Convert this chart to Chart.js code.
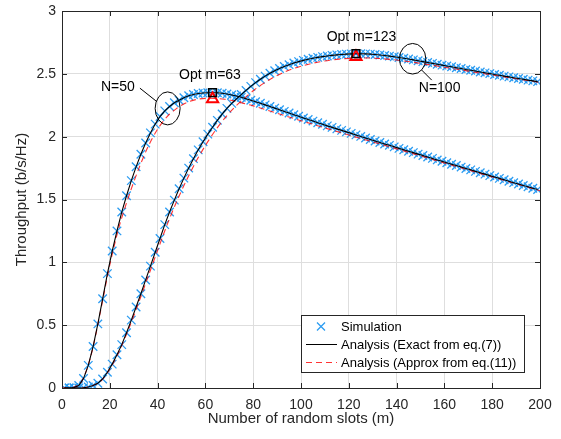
<!DOCTYPE html>
<html>
<head>
<meta charset="utf-8">
<script src="https://cdn.jsdelivr.net/npm/chart.js@4.4.1/dist/chart.umd.min.js"></script>
<style>
  html, body { margin: 0; padding: 0; background: #fff; }
  #wrap { width: 561px; height: 439px; }
</style>
</head>
<body>
<div id="wrap"><canvas id="chart" width="561" height="439"></canvas></div>
<script>
// axes
const xTickValues = [0, 20, 40, 60, 80, 100, 120, 140, 160, 180, 200];
const yTickValues = [0, 0.5, 1, 1.5, 2, 2.5, 3];
const yTickLabels = ['0', '0.5', '1', '1.5', '2', '2.5', '3'];

// simulation / exact analysis, read at m = 1, 3, 5, ..., 199
const simSlots = Array.from({ length: 100 }, (_, i) => 2 * i + 1);
const thrN50 = [
  0, 0, 0.003, 0.02, 0.075, 0.18, 0.33, 0.51, 0.71, 0.91,
  1.09, 1.25, 1.40, 1.53, 1.65, 1.76, 1.86, 1.95, 2.03, 2.10,
  2.16, 2.205, 2.24, 2.27, 2.29, 2.31, 2.325, 2.335, 2.343, 2.348,
  2.35, 2.35, 2.349, 2.345, 2.34, 2.332, 2.323, 2.313, 2.302, 2.29,
  2.278, 2.266, 2.253, 2.24, 2.227, 2.214, 2.201, 2.188, 2.175, 2.162,
  2.149, 2.136, 2.124, 2.111, 2.099, 2.086, 2.074, 2.062, 2.05, 2.038,
  2.026, 2.014, 2.002, 1.99, 1.978, 1.966, 1.954, 1.942, 1.931, 1.919,
  1.907, 1.896, 1.884, 1.873, 1.861, 1.85, 1.838, 1.827, 1.815, 1.804,
  1.792, 1.781, 1.77, 1.758, 1.747, 1.736, 1.724, 1.713, 1.702, 1.69,
  1.679, 1.668, 1.657, 1.645, 1.634, 1.623, 1.612, 1.601, 1.59, 1.579
];
const thrN100 = [
  0, 0, 0, 0, 0.002, 0.008, 0.02, 0.038, 0.072, 0.125,
  0.19, 0.265, 0.345, 0.44, 0.54, 0.645, 0.75, 0.86, 0.97, 1.08,
  1.19, 1.30, 1.40, 1.495, 1.585, 1.67, 1.75, 1.825, 1.895, 1.96,
  2.02, 2.075, 2.13, 2.18, 2.225, 2.265, 2.30, 2.335, 2.368, 2.40,
  2.43, 2.457, 2.482, 2.505, 2.525, 2.543, 2.559, 2.573, 2.586, 2.597,
  2.607, 2.616, 2.624, 2.631, 2.637, 2.642, 2.647, 2.651, 2.654, 2.657,
  2.659, 2.66, 2.66, 2.659, 2.657, 2.654, 2.65, 2.646, 2.641, 2.636,
  2.63, 2.624, 2.618, 2.611, 2.604, 2.597, 2.59, 2.583, 2.576, 2.569,
  2.562, 2.556, 2.549, 2.542, 2.535, 2.529, 2.522, 2.515, 2.508, 2.502,
  2.495, 2.489, 2.482, 2.476, 2.469, 2.463, 2.457, 2.45, 2.444, 2.438
];

// approximation, read at m = 0, 4, 8, ..., 200
const approxSlots = Array.from({ length: 51 }, (_, i) => 4 * i);
const approxN50 = [
  0, 0.001, 0.045, 0.25, 0.60, 0.98, 1.29, 1.53, 1.74, 1.92,
  2.06, 2.16, 2.225, 2.27, 2.295, 2.305, 2.305, 2.298, 2.285, 2.265,
  2.245, 2.222, 2.198, 2.174, 2.15, 2.127, 2.104, 2.081, 2.058, 2.036,
  2.013, 1.991, 1.969, 1.947, 1.925, 1.903, 1.881, 1.858, 1.836, 1.813,
  1.79, 1.768, 1.746, 1.724, 1.702, 1.68, 1.658, 1.636, 1.614, 1.592,
  1.57
];
const approxN100 = [
  0, 0, 0.001, 0.013, 0.05, 0.15, 0.295, 0.475, 0.675, 0.885,
  1.095, 1.30, 1.485, 1.65, 1.80, 1.93, 2.045, 2.145, 2.23, 2.30,
  2.365, 2.42, 2.467, 2.505, 2.536, 2.56, 2.58, 2.596, 2.608, 2.617,
  2.623, 2.626, 2.626, 2.623, 2.617, 2.61, 2.60, 2.589, 2.577, 2.565,
  2.552, 2.54, 2.528, 2.515, 2.503, 2.491, 2.479, 2.467, 2.455, 2.443,
  2.431
];

// optimum points
const optSlots = [63, 123];
const optExact = [2.35, 2.66];
const optApprox = [2.30, 2.635];

const legendLabels = ['Simulation', 'Analysis (Exact from eq.(7))', 'Analysis (Approx from eq.(11))'];

const SIM_COLOR = '#2b9cf2';
const APPROX_COLOR = 'rgba(255, 0, 0, 0.8)';
const AXIS_COLOR = '#262626';
const FONT = '"Liberation Sans", Arial, Helvetica, sans-serif';

function pts(xs, ys) {
    return xs.map((x, i) => ({ x: x, y: ys[i] }));
}

function simSet(ys) {
    return {
        data: pts(simSlots, ys),
        showLine: false,
        pointStyle: 'crossRot',
        pointRadius: 6,
        pointBorderWidth: 1.3,
        borderColor: SIM_COLOR,
        pointBorderColor: SIM_COLOR,
        order: 4
    };
}

function exactSet(ys) {
    return {
        data: pts(simSlots, ys),
        borderColor: '#000',
        borderWidth: 1.1,
        pointRadius: 0,
        tension: 0,
        order: 2
    };
}

function approxSet(ys) {
    return {
        data: pts(approxSlots, ys),
        borderColor: APPROX_COLOR,
        borderWidth: 1.1,
        borderDash: [6, 4],
        pointRadius: 0,
        tension: 0.3,
        order: 3
    };
}

// MATLAB-like frame, inward ticks, annotations and legend
const matlabFrame = {
    id: 'matlabFrame',
    afterDraw(chart) {
        const { ctx, chartArea: a, scales: { x, y } } = chart;
        ctx.save();
        ctx.strokeStyle = AXIS_COLOR;
        ctx.lineWidth = 1;
        ctx.beginPath();
        xTickValues.forEach(v => {
            const px = Math.round(x.getPixelForValue(v)) + 0.5;
            ctx.moveTo(px, a.bottom); ctx.lineTo(px, a.bottom - 5);
            ctx.moveTo(px, a.top); ctx.lineTo(px, a.top + 5);
        });
        yTickValues.forEach(v => {
            const py = Math.round(y.getPixelForValue(v)) + 0.5;
            ctx.moveTo(a.left, py); ctx.lineTo(a.left + 5, py);
            ctx.moveTo(a.right, py); ctx.lineTo(a.right - 5, py);
        });
        ctx.stroke();
        ctx.strokeRect(Math.round(a.left) + 0.5, Math.round(a.top) + 0.5,
            Math.round(a.right - a.left), Math.round(a.bottom - a.top));

        // annotations
        const P = (m, v) => [x.getPixelForValue(m), y.getPixelForValue(v)];
        ctx.fillStyle = '#000';
        ctx.strokeStyle = '#000';
        ctx.font = '14px ' + FONT;
        ctx.textAlign = 'center';
        ctx.textBaseline = 'middle';

        let p = P(23.4, 2.395);
        ctx.fillText('N=50', p[0], p[1]);
        p = P(61.9, 2.49);
        ctx.fillText('Opt m=63', p[0], p[1]);
        p = P(125.3, 2.795);
        ctx.fillText('Opt m=123', p[0], p[1]);
        p = P(158, 2.385);
        ctx.fillText('N=100', p[0], p[1]);

        ctx.beginPath();
        p = P(44.2, 2.225);
        ctx.ellipse(p[0], p[1], 12.5, 16.5, 0, 0, Math.PI * 2);
        ctx.stroke();
        ctx.beginPath();
        p = P(146.7, 2.62);
        ctx.ellipse(p[0], p[1], 13.2, 15.3, 0, 0, Math.PI * 2);
        ctx.stroke();

        ctx.beginPath();
        p = P(32.6, 2.386); ctx.moveTo(p[0], p[1]);
        p = P(39.6, 2.28); ctx.lineTo(p[0], p[1]);
        p = P(150.5, 2.53); ctx.moveTo(p[0], p[1]);
        p = P(154.7, 2.45); ctx.lineTo(p[0], p[1]);
        ctx.stroke();

        // legend box
        const lx = a.right - 239, ly = a.bottom - 73, lw = 223, lh = 57;
        ctx.fillStyle = '#fff';
        ctx.fillRect(lx, ly, lw, lh);
        ctx.strokeStyle = AXIS_COLOR;
        ctx.strokeRect(Math.round(lx) + 0.5, Math.round(ly) + 0.5, lw, lh);

        const rows = [ly + 11.5, ly + 29.5, ly + 47.5];
        ctx.strokeStyle = SIM_COLOR;
        ctx.lineWidth = 1.3;
        ctx.beginPath();
        ctx.moveTo(lx + 16, rows[0] - 4); ctx.lineTo(lx + 24, rows[0] + 4);
        ctx.moveTo(lx + 24, rows[0] - 4); ctx.lineTo(lx + 16, rows[0] + 4);
        ctx.stroke();

        ctx.lineWidth = 1;
        ctx.strokeStyle = '#000';
        ctx.beginPath();
        ctx.moveTo(lx + 5, rows[1]); ctx.lineTo(lx + 36, rows[1]);
        ctx.stroke();

        ctx.strokeStyle = APPROX_COLOR;
        ctx.setLineDash([6, 4]);
        ctx.beginPath();
        ctx.moveTo(lx + 5, rows[2]); ctx.lineTo(lx + 36, rows[2]);
        ctx.stroke();
        ctx.setLineDash([]);

        ctx.fillStyle = '#000';
        ctx.font = '13px ' + FONT;
        ctx.textAlign = 'left';
        legendLabels.forEach((t, i) => ctx.fillText(t, lx + 40, rows[i] + 0.5));
        ctx.restore();
    }
};

new Chart(document.getElementById('chart'), {
    type: 'line',
    data: {
        datasets: [
            simSet(thrN50),
            simSet(thrN100),
            exactSet(thrN50),
            exactSet(thrN100),
            approxSet(approxN50),
            approxSet(approxN100),
            {
                data: pts(optSlots, optApprox),
                showLine: false,
                pointStyle: 'triangle',
                pointRadius: 6.5,
                pointBorderWidth: 2,
                pointBorderColor: '#ff0000',
                pointBackgroundColor: 'rgba(0,0,0,0)',
                order: 1
            },
            {
                data: pts(optSlots, optExact),
                showLine: false,
                pointStyle: 'rect',
                pointRadius: 5.5,
                pointBorderWidth: 1.5,
                pointBorderColor: '#000',
                pointBackgroundColor: 'rgba(0,0,0,0)',
                order: 0
            }
        ]
    },
    options: {
        responsive: false,
        animation: false,
        devicePixelRatio: 1,
        layout: { padding: { top: 11, right: 21, bottom: 0, left: 0 } },
        plugins: {
            legend: { display: false },
            tooltip: { enabled: false }
        },
        scales: {
            x: {
                type: 'linear',
                min: 0,
                max: 200,
                afterFit: s => { s.height = 51; s.paddingLeft = 0; s.paddingRight = 0; },
                afterBuildTicks: s => { s.ticks = xTickValues.map(v => ({ value: v })); },
                ticks: {
                    color: AXIS_COLOR,
                    font: { family: FONT, size: 14 },
                    padding: 9,
                    maxRotation: 0,
                    callback: v => String(v)
                },
                grid: { color: '#dedede', drawTicks: false },
                border: { display: false },
                title: {
                    display: true,
                    text: 'Number of random slots (m)',
                    color: AXIS_COLOR,
                    font: { family: FONT, size: 15 },
                    padding: { top: 0, bottom: 11 }
                }
            },
            y: {
                min: 0,
                max: 3,
                afterFit: s => { s.width = 62; s.paddingTop = 0; s.paddingBottom = 0; },
                afterBuildTicks: s => { s.ticks = yTickValues.map(v => ({ value: v })); },
                ticks: {
                    color: AXIS_COLOR,
                    font: { family: FONT, size: 14 },
                    padding: 6,
                    callback: (v, i) => yTickLabels[i]
                },
                grid: { color: '#dedede', drawTicks: false },
                border: { display: false },
                title: {
                    display: true,
                    text: 'Throughput (b/s/Hz)',
                    color: AXIS_COLOR,
                    font: { family: FONT, size: 15 },
                    padding: { top: 13, bottom: 0 }
                }
            }
        }
    },
    plugins: [matlabFrame]
});
</script>
</body>
</html>
